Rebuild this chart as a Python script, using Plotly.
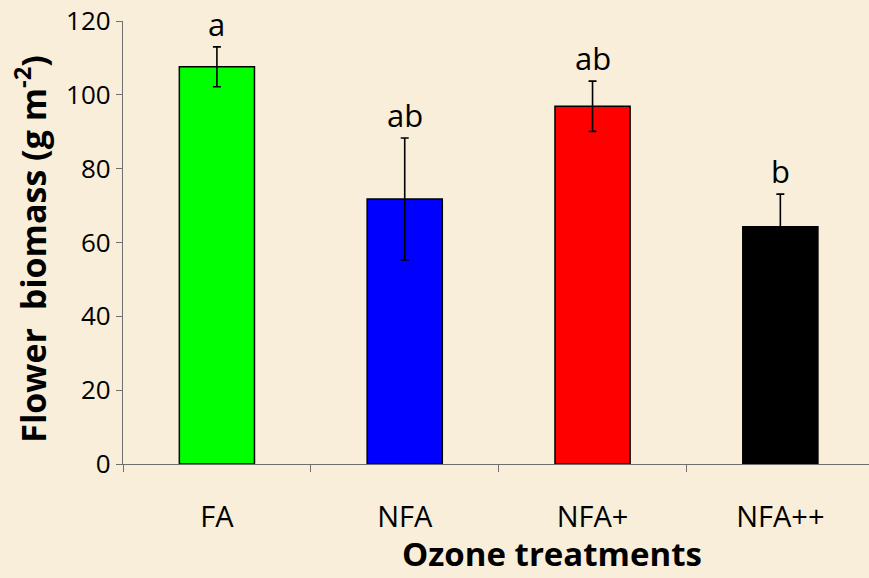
import plotly.graph_objects as go

treatments = ["FA", "NFA", "NFA+", "NFA++"]
biomass = [107.6, 71.8, 96.9, 64.3]
biomass_err = [5.4, 16.5, 6.8, 8.8]
letters = ["a", "ab", "ab", "b"]
bar_colors = ["#00ff00", "#0000ff", "#ff0000", "#000000"]

BG = "#f8eed9"
FONT = "Open Sans, Lato, DejaVu Sans, sans-serif"

fig = go.Figure(
    go.Bar(
        x=treatments,
        y=biomass,
        width=0.4,
        marker=dict(color=bar_colors, line=dict(color="#000000", width=1.5)),
        error_y=dict(type="data", array=biomass_err, visible=True,
                     color="#000000", thickness=1.6, width=4),
        showlegend=False,
    )
)

for t, m, e, lab in zip(treatments, biomass, biomass_err, letters):
    fig.add_annotation(
        x=t, y=m + e, text=lab, showarrow=False,
        yanchor="bottom", yshift=0,
        font=dict(family=FONT, size=31, color="#000000"),
    )

fig.add_annotation(
    xref="paper", yref="paper", x=-0.124, y=0.487,
    xanchor="center", yanchor="middle",
    text="Flower  biomass (g m<sup>-2</sup>)", textangle=-90, showarrow=False,
    font=dict(family=FONT, size=34, color="#000000", weight="bold"),
)
fig.add_annotation(
    xref="paper", yref="paper", x=0.575, y=-0.202,
    xanchor="center", yanchor="middle",
    text="Ozone treatments", showarrow=False,
    font=dict(family=FONT, size=33, color="#000000", weight="bold"),
)

fig.update_layout(
    width=869,
    height=578,
    paper_bgcolor=BG,
    plot_bgcolor=BG,
    margin=dict(l=123, r=0, t=21, b=114),
    font=dict(family=FONT, size=24, color="#000000"),
)
fig.update_xaxes(
    range=[-0.5, 3.472],
    tickson="boundaries",
    ticks="outside",
    ticklen=7,
    tickcolor="#6f6f6f",
    showline=True,
    linecolor="#6f6f6f",
    linewidth=1.2,
    showgrid=False,
    tickfont=dict(size=29),
    ticklabelstandoff=27,
)
fig.update_yaxes(
    range=[0, 120],
    dtick=20,
    ticks="outside",
    ticklen=6,
    tickcolor="#6f6f6f",
    showline=True,
    linecolor="#6f6f6f",
    linewidth=1.2,
    showgrid=False,
    zeroline=False,
    tickfont=dict(size=26),
)

fig.write_html(
    "out.html",
    config={"displayModeBar": False},
    post_script="document.body.style.margin='0';document.body.style.background='%s';" % BG,
)
